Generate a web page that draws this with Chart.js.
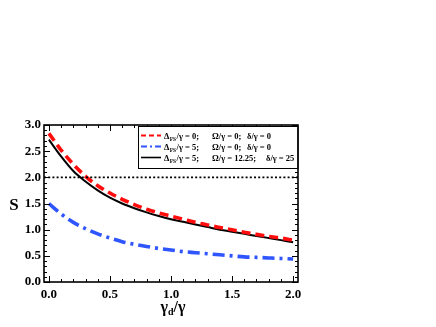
<!DOCTYPE html>
<html><head><meta charset="utf-8">
<script src="https://cdn.jsdelivr.net/npm/chart.js@4/dist/chart.umd.min.js"></script>
<style>html,body{margin:0;padding:0;background:#fff}#wrap{width:436px;height:327px}</style>
</head><body><div id="wrap"><canvas id="c" width="436" height="327"></canvas></div>
<script>
// ---- data ----
const gammaD = [0,0.1,0.2,0.3,0.4,0.5,0.6,0.7,0.8,0.9,1.0,1.1,1.2,1.3,1.4,1.5,1.6,1.7,1.8,1.9,2.0];
const sRed   = [2.84,2.52,2.25,2.02,1.84,1.70,1.58,1.48,1.39,1.32,1.26,1.20,1.14,1.09,1.04,1.00,0.95,0.91,0.87,0.84,0.80];
const sBlue  = [1.50,1.30,1.14,1.02,0.92,0.84,0.77,0.72,0.68,0.64,0.61,0.58,0.56,0.54,0.52,0.50,0.48,0.47,0.46,0.45,0.44];
const sBlack = [2.72,2.40,2.12,1.92,1.75,1.61,1.50,1.41,1.33,1.26,1.20,1.15,1.10,1.05,1.00,0.96,0.92,0.88,0.84,0.80,0.76];
const refLevel = [2.0, 2.0];
const xLimits = [-0.04, 2.04];
const yLimits = [0, 3];
const xTicks = [0, 0.5, 1.0, 1.5, 2.0];
const yTicks = [0, 0.5, 1.0, 1.5, 2.0, 2.5, 3.0];
const xMinorStep = 0.1;
const yMinorStep = 0.1;
const legendRows = [
  ["Δ", "FS", "/γ = 0;", "Ω/γ = 0;", "δ/γ = 0"],
  ["Δ", "FS", "/γ = 5;", "Ω/γ = 0;", "δ/γ = 0"],
  ["Δ", "FS", "/γ = 5;", "Ω/γ = 12.25;", "δ/γ = 25"]
];
const yTitle = "S";
const xTitle = ["γ", "d", "/γ"];

// ---- styles ----
const RED = "#ff0d0d", BLUE = "#2f55ff", BLACK = "#000000";
const styles = [
  {color: RED, width: 3.6, dash: [9, 5]},
  {color: BLUE, width: 3.6, dash: [12, 5, 3, 5]},
  {color: BLACK, width: 2, dash: []}
];
const SERIF = "'Liberation Serif','DejaVu Serif',serif";

const pts = arr => gammaD.map((x, i) => ({x, y: arr[i]}));

const framePlugin = {
  id: 'frame',
  afterDatasetsDraw(chart) {
    const ctx = chart.ctx, a = chart.chartArea;
    const xs = chart.scales.x, ys = chart.scales.y;
    ctx.save();
    ctx.strokeStyle = '#000';
    ctx.lineWidth = 1;
    const isMajor = (v, list) => list.some(t => Math.abs(t - v) < 1e-6);
    for (let i = 0; i <= 20; i++) {
      const v = i * xMinorStep;
      const px = Math.round(xs.getPixelForValue(v)) + 0.5;
      const L = isMajor(v, xTicks) ? 6 : 3;
      ctx.beginPath();
      ctx.moveTo(px, a.bottom); ctx.lineTo(px, a.bottom - L);
      ctx.moveTo(px, a.top); ctx.lineTo(px, a.top + L);
      ctx.stroke();
    }
    for (let i = 0; i <= 30; i++) {
      const v = i * yMinorStep;
      const py = Math.round(ys.getPixelForValue(v)) + 0.5;
      const L = isMajor(v, yTicks) ? 6 : 3;
      ctx.beginPath();
      ctx.moveTo(a.left, py); ctx.lineTo(a.left + L, py);
      ctx.moveTo(a.right, py); ctx.lineTo(a.right - L, py);
      ctx.stroke();
    }
    ctx.restore();
  },
  afterDraw(chart) {
    const ctx = chart.ctx, a = chart.chartArea;
    ctx.save();
    // legend box
    const lx = 138.5, ly = 126.5, lw = a.right - lx, lh = 42;
    ctx.fillStyle = '#fff';
    ctx.fillRect(lx, ly, lw, lh);
    ctx.strokeStyle = '#000';
    ctx.lineWidth = 1;
    ctx.strokeRect(lx, ly, lw, lh);
    const rowY = [135.5, 146.5, 157.5];
    legendRows.forEach((r, i) => {
      const st = styles[i];
      ctx.strokeStyle = st.color;
      ctx.lineWidth = i === 2 ? 1.6 : 2;
      ctx.setLineDash(i === 0 ? [5, 3] : (i === 1 ? [6, 3, 2, 3] : []));
      ctx.beginPath();
      ctx.moveTo(141, rowY[i]); ctx.lineTo(161, rowY[i]);
      ctx.stroke();
      ctx.setLineDash([]);
      ctx.fillStyle = '#000';
      ctx.textBaseline = 'alphabetic';
      ctx.textAlign = 'left';
      const base = rowY[i] + 3;
      let x = 164;
      ctx.font = 'bold 8.5px ' + SERIF;
      ctx.fillText(r[0], x, base); x += ctx.measureText(r[0]).width;
      ctx.font = 'bold 5.5px ' + SERIF;
      ctx.fillText(r[1], x + 0.4, base + 2); x += ctx.measureText(r[1]).width + 0.8;
      ctx.font = 'bold 8.5px ' + SERIF;
      ctx.fillText(r[2], x, base);
      ctx.fillText(r[3], 212, base);
      ctx.fillText(r[4], i === 2 ? 266 : 247, base);
    });
    // axis titles
    ctx.fillStyle = '#000';
    ctx.font = 'bold 17px ' + SERIF;
    ctx.textAlign = 'center';
    ctx.textBaseline = 'middle';
    ctx.fillText(yTitle, 14, 206);
    ctx.textAlign = 'left';
    ctx.textBaseline = 'alphabetic';
    ctx.font = 'bold 16px ' + SERIF;
    const w0 = ctx.measureText(xTitle[0]).width;
    ctx.font = 'bold 10px ' + SERIF;
    const w1 = ctx.measureText(xTitle[1]).width;
    ctx.font = 'bold 16px ' + SERIF;
    const w2 = ctx.measureText(xTitle[2]).width;
    let tx = 173 - (w0 + w1 + w2) / 2;
    ctx.fillText(xTitle[0], tx, 312); tx += w0;
    ctx.font = 'bold 10px ' + SERIF;
    ctx.fillText(xTitle[1], tx, 315); tx += w1;
    ctx.font = 'bold 16px ' + SERIF;
    ctx.fillText(xTitle[2], tx, 312);
    // frame
    ctx.strokeStyle = '#000';
    ctx.lineWidth = 1.6;
    ctx.strokeRect(a.left, a.top, a.right - a.left, a.bottom - a.top);
    ctx.restore();
  }
};

new Chart(document.getElementById('c'), {
  type: 'line',
  data: {
    datasets: [
      {label: 'ref', data: [{x: xLimits[0], y: refLevel[0]}, {x: xLimits[1], y: refLevel[1]}],
       borderColor: BLACK, borderWidth: 1.6, borderDash: [2, 2.2], pointRadius: 0},
      {label: 'red', data: pts(sRed), borderColor: styles[0].color, borderWidth: styles[0].width,
       borderDash: styles[0].dash, pointRadius: 0, cubicInterpolationMode: 'monotone'},
      {label: 'blue', data: pts(sBlue), borderColor: styles[1].color, borderWidth: styles[1].width,
       borderDash: styles[1].dash, pointRadius: 0, cubicInterpolationMode: 'monotone'},
      {label: 'black', data: pts(sBlack), borderColor: styles[2].color, borderWidth: styles[2].width,
       pointRadius: 0, cubicInterpolationMode: 'monotone'}
    ]
  },
  options: {
    responsive: false,
    devicePixelRatio: 1,
    animation: false,
    events: [],
    layout: {padding: {top: 125, right: 138, left: 0, bottom: 0}},
    plugins: {legend: {display: false}, tooltip: {enabled: false}},
    scales: {
      x: {
        type: 'linear', min: xLimits[0], max: xLimits[1],
        grid: {display: false, drawTicks: false}, border: {display: false},
        ticks: {font: {family: SERIF, weight: 'bold', size: 13}, color: '#000', padding: 5,
                maxRotation: 0, autoSkip: false, callback: v => Number(v).toFixed(1)},
        afterBuildTicks: s => { s.ticks = xTicks.map(v => ({value: v})); },
        afterFit: s => { s.height = 45; }
      },
      y: {
        type: 'linear', min: yLimits[0], max: yLimits[1],
        grid: {display: false, drawTicks: false}, border: {display: false},
        ticks: {font: {family: SERIF, weight: 'bold', size: 13}, color: '#000', padding: 3,
                autoSkip: false, callback: v => Number(v).toFixed(1)},
        afterBuildTicks: s => { s.ticks = yTicks.map(v => ({value: v})); },
        afterFit: s => { s.width = 44; }
      }
    }
  },
  plugins: [framePlugin]
});
</script>
</body></html>
